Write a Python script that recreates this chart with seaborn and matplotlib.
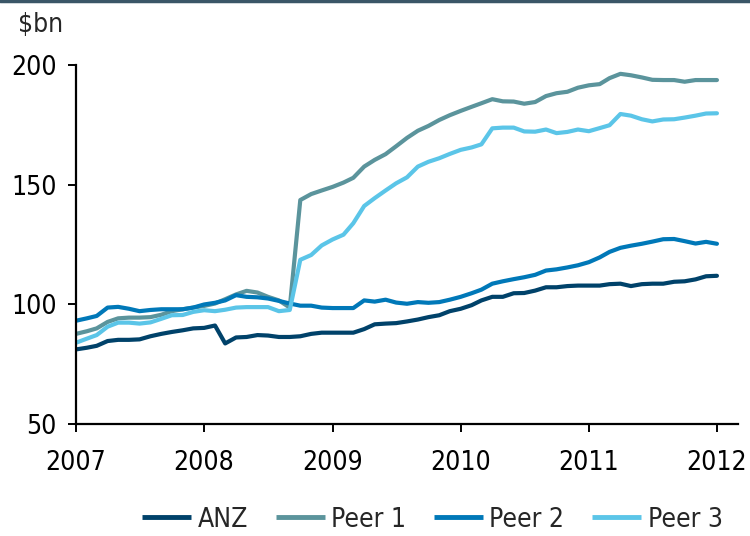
import pandas as pd
import numpy as np
import seaborn as sns
import matplotlib.pyplot as plt
from matplotlib.lines import Line2D
import matplotlib.dates as mdates

# monthly balances, Jan 2007 - Jan 2012 ($bn)
months = pd.date_range("2007-01-01", periods=61, freq="MS")
series_names = ["ANZ", "Peer 1", "Peer 2", "Peer 3"]

anz = [81, 81.7, 82.5, 84.5, 85, 85, 85.2, 86.5, 87.5, 88.3, 89, 89.8, 90, 91,
       83.5, 86, 86.2, 87, 86.8, 86.2, 86.2, 86.5, 87.5, 88, 88, 88, 88, 89.5,
       91.5, 91.8, 92, 92.7, 93.5, 94.5, 95.3, 97, 98, 99.5, 101.5, 103, 103,
       104.5, 104.6, 105.6, 107, 107, 107.5, 107.7, 107.7, 107.7, 108.3, 108.5,
       107.5, 108.3, 108.5, 108.5, 109.3, 109.5, 110.3, 111.6, 111.8]
peer1 = [87.5, 88.6, 89.8, 92.5, 94, 94.3, 94.3, 94.5, 95.5, 97, 97.8, 98.5, 99.2,
         100.2, 102, 104, 105.5, 104.8, 103, 101.5, 98.5, 143.5, 146, 147.5, 149,
         150.8, 152.8, 157.5, 160.3, 162.7, 166, 169.5, 172.5, 174.5, 177, 179,
         180.8, 182.5, 184, 185.7, 184.8, 184.7, 183.8, 184.5, 187, 188.2, 188.8,
         190.5, 191.5, 192, 194.5, 196.3, 195.7, 194.8, 193.8, 193.7, 193.7, 193,
         193.7, 193.7, 193.7]
peer2 = [93, 94, 95, 98.5, 98.8, 98, 97, 97.5, 97.8, 97.8, 97.8, 98.5, 99.8, 100.5,
         101.5, 103.7, 103, 102.8, 102.3, 101.3, 100.2, 99.3, 99.3, 98.5, 98.3, 98.3,
         98.3, 101.5, 101, 101.8, 100.6, 100.1, 100.8, 100.5, 100.8, 101.8, 103,
         104.5, 106, 108.5, 109.5, 110.4, 111.2, 112.2, 114, 114.5, 115.3, 116.2,
         117.5, 119.5, 121.8, 123.5, 124.4, 125.2, 126.1, 127.1, 127.2, 126.3,
         125.3, 126, 125.2]
peer3 = [83.8, 85.5, 87, 90.5, 92.2, 92.2, 91.8, 92.3, 93.8, 95.3, 95.4, 96.7, 97.4,
         97, 97.6, 98.5, 98.7, 98.7, 98.7, 97, 97.5, 118.5, 120.5, 124.5, 127, 129,
         133.8, 141, 144.3, 147.5, 150.5, 153, 157.5, 159.5, 161, 162.8, 164.5,
         165.5, 166.8, 173.5, 173.8, 173.8, 172.2, 172.1, 173, 171.5, 172, 173,
         172.3, 173.6, 174.8, 179.5, 178.8, 177.3, 176.4, 177.2, 177.3, 178, 178.8,
         179.7, 179.8]

colors = ["#00426a", "#5b949c", "#0078b8", "#5bc5e8"]

df = pd.DataFrame({"date": months, "ANZ": anz, "Peer 1": peer1,
                   "Peer 2": peer2, "Peer 3": peer3})
long_df = df.melt(id_vars="date", var_name="series", value_name="value")

sns.set_style("white")
plt.rcParams["font.family"] = ["DejaVu Sans"]
plt.rcParams["font.stretch"] = "condensed"

fig = plt.figure(figsize=(7.5, 5.36), dpi=100)
ax = fig.add_axes([76 / 750, 1 - 423.5 / 536, (738 - 76) / 750, (423.5 - 65) / 536])

sns.lineplot(data=long_df, x="date", y="value", hue="series", hue_order=series_names,
             palette=colors, linewidth=3, ax=ax, legend=False)

ax.set_ylim(50, 200)
ax.set_yticks([50, 100, 150, 200])
ax.set_xlim(pd.Timestamp("2007-01-01"), pd.Timestamp("2012-03-01"))
ax.xaxis.set_major_locator(mdates.YearLocator())
ax.xaxis.set_major_formatter(mdates.DateFormatter("%Y"))
ax.set_xlabel("")
ax.set_ylabel("")

for side in ["top", "right"]:
    ax.spines[side].set_visible(False)
for side in ["left", "bottom"]:
    ax.spines[side].set_color("black")
    ax.spines[side].set_linewidth(1.6)
ax.tick_params(axis="both", direction="out", length=6, width=1.4, color="black",
               labelsize=19, labelcolor="black")
ax.tick_params(axis="y", pad=8)
ax.tick_params(axis="x", pad=13)
ax.tick_params(left=True, bottom=True)

handles = [Line2D([0], [0], color=c, lw=3.5, solid_capstyle="butt") for c in colors]
fig.legend(handles, series_names, loc="lower right", bbox_to_anchor=(0.995, -0.038),
           ncol=4, frameon=False, fontsize=19, handlelength=1.85, handletextpad=0.25,
           columnspacing=1.05)

fig.text(18 / 750, 1 - 32 / 536, "$bn", fontsize=19, ha="left", va="baseline")
fig.add_artist(Line2D([0, 1], [0.999, 0.999], transform=fig.transFigure,
                      color="#3a5667", lw=2.5))

fig.savefig("out.png", dpi=100)
